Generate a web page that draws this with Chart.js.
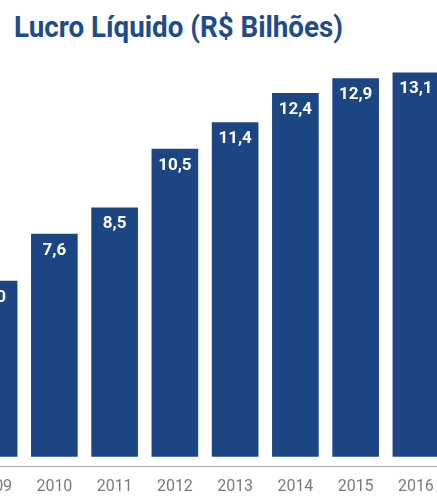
<!DOCTYPE html>
<html>
<head>
<meta charset="utf-8">
<script src="https://cdn.jsdelivr.net/npm/chart.js@4/dist/chart.umd.min.js"></script>
<style>
  html, body { margin: 0; padding: 0; background: #ffffff; }
  body { width: 437px; height: 497px; overflow: hidden; position: relative; }
  #title {
    position: absolute; left: 14px; top: 12px; margin: 0;
    font-family: Roboto, "Noto Sans", sans-serif; font-weight: 700;
    font-size: 30px; line-height: 1; color: #1e4c8b; white-space: nowrap;
    display: inline-block; transform-origin: 0 0;
  }
  #c { position: absolute; left: -36px; top: 0; }
</style>
</head>
<body>
<h1 id="title">Lucro Líquido (R$ Bilhões)</h1>
<canvas id="c" width="482" height="510" style="width:482px;height:510px"></canvas>
<script>
const categories = ["2009", "2010", "2011", "2012", "2013", "2014", "2015", "2016"];
const lucroLiquido = [6.0, 7.6, 8.5, 10.5, 11.4, 12.4, 12.9, 13.1];

// condense title to match reference width
const t = document.getElementById('title');
const w = t.getBoundingClientRect().width;
t.style.transform = 'scaleX(' + (329 / w) + ')';

const barLabels = {
  id: 'barLabels',
  afterDatasetsDraw(chart) {
    const ctx = chart.ctx;
    const meta = chart.getDatasetMeta(0);
    ctx.save();
    ctx.fillStyle = '#ffffff';
    ctx.font = '700 17px Roboto, "Noto Sans", sans-serif';
    ctx.textAlign = 'center';
    ctx.textBaseline = 'alphabetic';
    meta.data.forEach((bar, i) => {
      const txt = lucroLiquido[i].toFixed(1).replace('.', ',');
      ctx.fillText(txt, bar.x, bar.y + 21);
    });
    ctx.restore();
  }
};

new Chart(document.getElementById('c'), {
  type: 'bar',
  data: {
    labels: categories,
    datasets: [{
      data: lucroLiquido,
      backgroundColor: '#1b4683',
      borderWidth: 0,
      categoryPercentage: 1.0,
      barPercentage: 0.774
    }]
  },
  options: {
    responsive: false,
    maintainAspectRatio: false,
    devicePixelRatio: 1,
    animation: false,
    layout: { padding: { top: 46, bottom: 2, left: 0, right: 0 } },
    plugins: { legend: { display: false }, tooltip: { enabled: false }, title: { display: false } },
    scales: {
      y: { display: false, min: -0.34, max: 14 },
      x: {
        grid: { display: false, drawTicks: false },
        border: { display: true, color: '#a8a8a8', width: 1, dash: [2, 2] },
        ticks: { color: '#7b7b7b', padding: 11, font: { family: 'Roboto', size: 16 } }
      }
    }
  },
  plugins: [barLabels]
});
</script>
</body>
</html>
